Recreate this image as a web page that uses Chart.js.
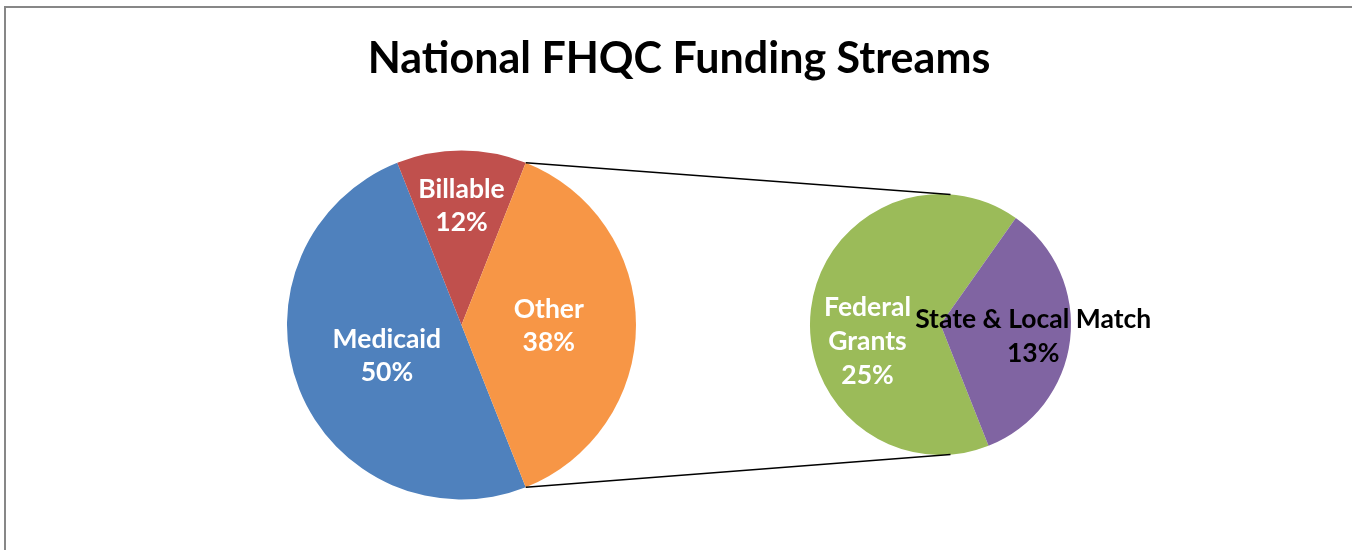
<!DOCTYPE html>
<html>
<head>
<meta charset="utf-8">
<script src="https://cdn.jsdelivr.net/npm/chart.js@4.4.1/dist/chart.umd.min.js"></script>
<style>
  html, body { margin: 0; padding: 0; background: #fff; overflow: hidden; }
  #wrap { position: relative; width: 1352px; height: 550px; }
  #frame { position: absolute; left: 4px; top: 6px; width: 1400px; height: 600px; border: 2px solid #878787; }
  canvas { position: absolute; left: 0; top: 0; }
</style>
</head>
<body>
<div id="wrap">
  <div id="frame"></div>
  <canvas id="mainPie" width="1352" height="550"></canvas>
  <canvas id="subPie" width="1352" height="550"></canvas>
</div>
<script>
// 1. Data
const chartTitle = 'National FHQC Funding Streams';
const mainLabels = ['Medicaid', 'Billable', 'Other'];
const mainValues = [50, 12, 38];
const subLabels = ['Federal Grants', 'State & Local Match'];
const subValues = [25, 13];

// how each label text is broken into lines
const mainLines = [['Medicaid'], ['Billable'], ['Other']];
const subLines = [['Federal', 'Grants'], ['State & Local Match']];

const mainColors = ['#4F81BD', '#C0504D', '#F79646'];
const subColors = ['#9BBB59', '#8064A2'];

const total = mainValues.reduce((a, b) => a + b, 0);
// the "Other" slice is centred on the right side, like Excel's pie of pie
const startRot = 90 + (mainValues[2] / total) * 180;

const FONT = 'Lato, "DejaVu Sans", sans-serif';

// 2. Label plugin (draws text inside each slice)
const sliceLabels = {
    id: 'sliceLabels',
    afterDatasetsDraw(chart, args, opts) {
        const ctx = chart.ctx;
        const meta = chart.getDatasetMeta(0);
        const size = opts.size;
        const capH = size * 0.72;
        ctx.save();
        ctx.font = 'bold ' + size + 'px ' + FONT;
        ctx.textAlign = 'center';
        ctx.textBaseline = 'alphabetic';
        meta.data.forEach((arc, i) => {
            const mid = (arc.startAngle + arc.endAngle) / 2 + (opts.shift[i] || 0) * Math.PI / 180;
            const r = arc.outerRadius * opts.frac[i];
            const cx = arc.x + Math.cos(mid) * r;
            const cy = arc.y + Math.sin(mid) * r;
            const pct = Math.round(chart.data.datasets[0].data[i] / total * 100) + '%';
            const lines = opts.lines[i].concat([pct]);
            const blockH = capH + (lines.length - 1) * opts.lineH;
            ctx.fillStyle = opts.colors[i];
            lines.forEach((t, k) => {
                ctx.fillText(t, cx, cy - blockH / 2 + capH + k * opts.lineH);
            });
        });
        ctx.restore();
    }
};

// Title across the whole canvas (the pie itself sits off-centre)
const wideTitle = {
    id: 'wideTitle',
    afterDraw(chart, args, opts) {
        const ctx = chart.ctx;
        ctx.save();
        ctx.font = 'bold ' + opts.size + 'px ' + FONT;
        ctx.fillStyle = '#000';
        ctx.textAlign = 'center';
        ctx.textBaseline = 'alphabetic';
        ctx.fillText(opts.text, chart.width / 2 + 3, opts.baseline);
        ctx.restore();
    }
};

// 3. Main pie
const mainChart = new Chart(document.getElementById('mainPie'), {
    type: 'pie',
    data: {
        labels: mainLabels,
        datasets: [{ data: mainValues, backgroundColor: mainColors, borderWidth: 0 }]
    },
    options: {
        responsive: false,
        animation: false,
        events: [],
        rotation: startRot,
        radius: 174.5,
        layout: { padding: { left: 287, right: 716, top: 150.5, bottom: 50.5 } },
        plugins: {
            legend: { display: false },
            tooltip: { enabled: false },
            wideTitle: { text: chartTitle, size: 43, baseline: 73 },
            sliceLabels: {
                size: 26.5, lineH: 33,
                frac: [0.46, 0.69, 0.5],
                shift: [0, 0, 0],
                lines: mainLines,
                colors: ['#fff', '#fff', '#fff']
            }
        }
    },
    plugins: [sliceLabels, wideTitle]
});

// 4. Connector lines between the "Other" slice and the second pie
const connectors = {
    id: 'connectors',
    afterDraw(chart) {
        const other = mainChart.getDatasetMeta(0).data[2];
        const sub = chart.getDatasetMeta(0).data[0];
        const ctx = chart.ctx;
        const a1 = other.startAngle, a2 = other.endAngle;
        const b = 4.4 * Math.PI / 180;
        ctx.save();
        ctx.strokeStyle = '#000';
        ctx.lineWidth = 1.5;
        ctx.beginPath();
        ctx.moveTo(other.x + Math.cos(a1) * other.outerRadius, other.y + Math.sin(a1) * other.outerRadius);
        ctx.lineTo(sub.x + Math.cos(-Math.PI / 2 + b) * sub.outerRadius, sub.y + Math.sin(-Math.PI / 2 + b) * sub.outerRadius);
        ctx.moveTo(other.x + Math.cos(a2) * other.outerRadius, other.y + Math.sin(a2) * other.outerRadius);
        ctx.lineTo(sub.x + Math.cos(Math.PI / 2 - b) * sub.outerRadius, sub.y + Math.sin(Math.PI / 2 - b) * sub.outerRadius);
        ctx.stroke();
        ctx.restore();
    }
};

// 5. Second pie (breakdown of "Other")
new Chart(document.getElementById('subPie'), {
    type: 'pie',
    data: {
        labels: subLabels,
        datasets: [{ data: subValues, backgroundColor: subColors, borderWidth: 0 }]
    },
    options: {
        responsive: false,
        animation: false,
        events: [],
        rotation: startRot,
        radius: 130.5,
        layout: { padding: { left: 810, right: 281, top: 194, bottom: 95 } },
        plugins: {
            legend: { display: false },
            tooltip: { enabled: false },
            sliceLabels: {
                size: 26.5, lineH: 34,
                frac: [0.572, 0.715],
                shift: [-19, 0],
                lines: subLines,
                colors: ['#fff', '#000']
            }
        }
    },
    plugins: [connectors, sliceLabels]
});
</script>
</body>
</html>
